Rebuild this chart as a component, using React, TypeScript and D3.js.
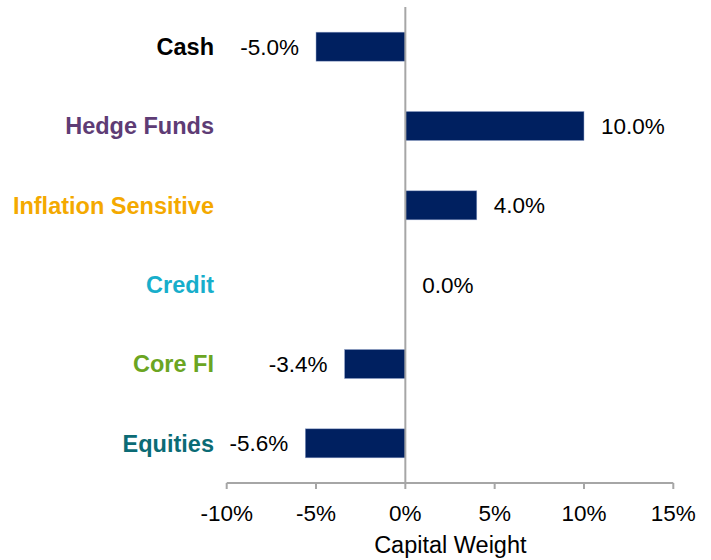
import React from "react";
import * as d3 from "d3";

const categories = ["Cash", "Hedge Funds", "Inflation Sensitive", "Credit", "Core FI", "Equities"];
const values = [-5.0, 10.0, 4.0, 0.0, -3.4, -5.6];
const labelColors = ["#000000", "#5E3C75", "#F4A900", "#17AECB", "#6BA522", "#0B6B75"];
const xTicks = [-10, -5, 0, 5, 10, 15];

export default function App() {
  const W = 711, H = 560;
  const x = d3.scaleLinear().domain([-10, 15]).range([226.7, 673.3]);
  const y = d3.scaleBand<string>().domain(categories).range([7, 483]).paddingInner(0).paddingOuter(0);
  const barH = 29;
  const font = "Arial, 'Liberation Sans', sans-serif";
  const axisColor = "#a6a6a6";
  const fmt = (v: number) => d3.format(".1f")(v).replace("\u2212", "-") + "%";
  return (
    <svg width={W} height={H} style={{ position: "absolute", left: 0, top: 0, background: "#fff" }} fontFamily={font}>
      {categories.map((c, i) => {
        const v = values[i];
        const cy = (y(c) as number) + y.bandwidth() / 2;
        const x0 = x(Math.min(0, v));
        const x1 = x(Math.max(0, v));
        return (
          <g key={c}>
            {v !== 0 && <rect x={x0} y={cy - barH / 2} width={x1 - x0} height={barH} fill="#002060" stroke="#8ea0c8" strokeWidth={0.5} />}
            <text x={214} y={cy} dy="0.35em" textAnchor="end" fontWeight="bold" fontSize={23.5} fill={labelColors[i]}>{c}</text>
            <text x={v < 0 ? x(v) - 17 : x(v) + 17} y={cy} dy="0.35em" textAnchor={v < 0 ? "end" : "start"} fontSize={22.5} fill="#000">{fmt(v)}</text>
          </g>
        );
      })}
      <line x1={x(0)} x2={x(0)} y1={7} y2={483} stroke={axisColor} strokeWidth={2} />
      <line x1={x(-10)} x2={x(15)} y1={483} y2={483} stroke={axisColor} strokeWidth={2} />
      {xTicks.map((t) => (
        <g key={t}>
          <line x1={x(t)} x2={x(t)} y1={483} y2={489} stroke={axisColor} strokeWidth={2} />
          <text x={x(t)} y={521} textAnchor="middle" fontSize={22.5} fill="#000">{t}%</text>
        </g>
      ))}
      <text x={x(0) + 45} y={553} textAnchor="middle" fontSize={23.5} fill="#000">Capital Weight</text>
    </svg>
  );
}
